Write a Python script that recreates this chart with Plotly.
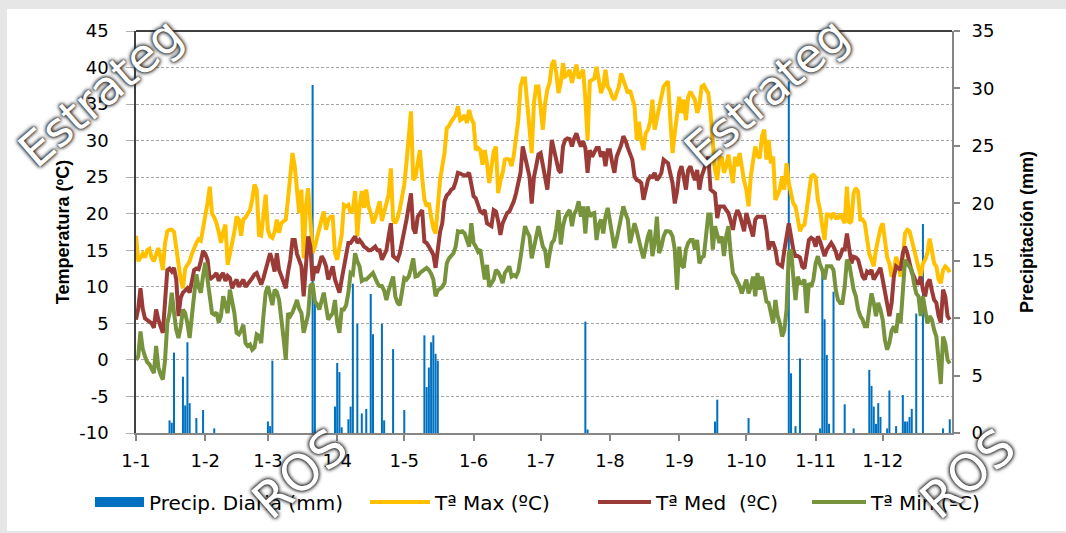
import pandas as pd
import plotly.graph_objects as go

YEAR_START = "2015-01-01"
month_labels = ["1-1", "1-2", "1-3", "1-4", "1-5", "1-6",
                "1-7", "1-8", "1-9", "1-10", "1-11", "1-12"]
temp_ticks = [-10, -5, 0, 5, 10, 15, 20, 25, 30, 35, 40, 45]
temp_tick_labels = ["-10", "-5", "0", "5", "10", "15", "20", "25", "30", "35", "40", "45"]

# Daily maximum temperature (ºC), Jan..Dec
tmax = [
    17, 13.5, 14, 14.5, 14, 15, 15.2, 14, 13.5, 14.5, 15.3, 14, 12.3, 16, 17.6, 17.8, 17.8, 17.5, 15, 13.3, 11, 9.8, 12.5, 13, 13.5, 14.5, 15.3, 16, 16.5, 16.3, 18,
    19.5, 21.5, 23.7, 20, 19.5, 18.7, 17.5, 16, 17.5, 18.5, 13, 14.5, 15.5, 17.5, 19.6, 19.2, 17, 19.2, 19.5, 20, 20.5, 22, 24, 23.3, 17.1, 17, 20, 22.6,
    17.8, 16.9, 16.7, 17.5, 19.2, 17.4, 18.7, 19, 19.2, 22, 25.6, 28.3, 26.5, 23.3, 20.1, 23.3, 13.9, 21, 23.5, 19.2, 14.6, 15.5, 16.9, 17.8, 19.2, 20.3, 17.8, 19.2, 19.6, 19.6, 14.6,
    13.7, 15.5, 17.1, 21.2, 21, 21.2, 20.1, 20.5, 23.1, 16.9, 21, 23.1, 20.8, 23.3, 21, 20.1, 18.7, 19.4, 20.5, 21.7, 19, 20.3, 21.5, 22.6, 26.2, 19.2, 18.7, 19.4, 20.6, 22.4,
    24, 27, 31, 34, 24.6, 25, 26.9, 28.7, 24.9, 22, 21, 21.5, 19.6, 18, 17.3, 21.4, 24.6, 26.5, 28.3, 31.7, 32, 32.6, 33.1, 33.5, 34.7, 32.8, 33, 33.5, 32.4, 34.2, 33,
    32.4, 28.7, 29, 28.7, 26.7, 28.7, 26.9, 24.2, 26, 28.5, 29.2, 22.8, 24.5, 25.6, 27.4, 27.5, 27.4, 26.5, 28, 30.1, 32.8, 37.4, 38.5, 38.5, 35.1, 33, 28.3, 35.1, 37.4, 37.4,
    34.7, 31.5, 35.1, 37, 37.9, 40.4, 41, 39.2, 36.5, 37.9, 40.6, 38.8, 39, 39.7, 37.9, 39.2, 40.4, 38.5, 39, 39.7, 35.6, 30.1, 38.1, 38.3, 38.5, 40.1, 38, 36.5, 37.4, 39.7, 37.4,
    36.9, 36, 35.6, 36.5, 37.4, 39.2, 38.3, 37.5, 36.5, 36.9, 35.5, 34.7, 30.1, 32.6, 30, 28.7, 31, 31.5, 32.6, 35.6, 31.5, 33.3, 34.5, 36, 37.4, 37.8, 38.1, 33, 28.3, 31, 33.3,
    36, 33.8, 35.6, 32.8, 36, 36.7, 36, 35.6, 33.8, 34.7, 37.4, 37.6, 37, 36.5, 33.8, 29.2, 26, 24.6, 27.4, 27.8, 25.6, 26.5, 28.1, 26, 24.2, 27.8, 26.5, 28.3, 26, 24.5,
    23.3, 21, 25.1, 26.9, 29.2, 28, 27.6, 30.6, 31.5, 27.4, 30.1, 26.9, 27.8, 21.9, 22.5, 23.3, 25.1, 23.3, 26.9, 24.2, 22.8, 21.4, 21, 19.2, 17.6, 18.3, 18.5, 20.5, 22.4, 25.1, 25.3,
    25, 21.9, 20.5, 18.3, 16.4, 19.9, 19.9, 19.5, 20.1, 19.4, 19.4, 20, 19.2, 18.7, 23.7, 18.7, 19, 22.8, 23.5, 23, 19.2, 19.2, 18.7, 16.9, 14.5, 13.7, 12.8, 15.1, 16.4, 18,
    18.7, 16.4, 14, 13.2, 11.4, 12.3, 14.1, 13.2, 11.4, 14, 17.3, 17.8, 17.6, 16.4, 15.1, 14.1, 12.8, 11.4, 13.2, 13.7, 14.6, 16.6, 15, 13.2, 12.8, 11, 10.5, 12.3, 12.8, 12.5, 12,
]

# Daily mean temperature (ºC)
tmed = [
    5.5, 7, 9.8, 7, 5.7, 5.5, 5.2, 5, 4.4, 6.9, 5.5, 4.6, 3.7, 8, 12.3, 12.5, 12.1, 12.6, 11, 6, 8.5, 9.2, 9.6, 9.8, 9.2, 11, 12.3, 12.5, 12.4, 13.5, 14.9,
    14.5, 13.7, 11, 11.2, 11.5, 11.9, 10.8, 11.5, 11.9, 10.8, 11.5, 11.2, 9.8, 10.5, 11, 10, 10.5, 11, 10, 10.5, 10.8, 11.2, 11.7, 11.9, 11, 10.3, 11.2, 12.5,
    13.7, 14.6, 13.5, 12.1, 14.6, 12.3, 11.5, 10.8, 9.8, 12, 13.7, 16.4, 16.4, 14.5, 13.7, 12.8, 8.7, 12.8, 16.9, 15.5, 10.8, 12.8, 11.9, 13, 14.2, 13.7, 12.8, 11, 12, 12.8, 11,
    10, 9.2, 11, 12.5, 14.2, 16, 16, 16.4, 16.9, 16, 16.4, 16, 15.5, 15.3, 15, 15, 15.3, 15.5, 15, 15, 13.7, 14.5, 15, 16.9, 18.7, 14.2, 14, 13.7, 14.6, 16,
    17.5, 19.2, 21, 22.8, 18, 17.3, 19.6, 20, 20.5, 16.2, 16, 15.5, 15, 14.4, 12.6, 15.1, 17.5, 18.7, 21.7, 22.5, 22.8, 23.3, 23.5, 24.4, 25.6, 25.5, 25.3, 25.2, 25.3, 25.6, 24,
    22.4, 22.1, 21, 20.3, 20.1, 20.5, 18.7, 18.5, 18.3, 20.5, 20.3, 19, 17.1, 18.7, 19.5, 20.1, 20.3, 21, 21.7, 22.8, 24, 25.6, 29.2, 27.8, 26, 25.1, 21.4, 25, 26.5, 28.1,
    28.3, 26.5, 25.1, 23.3, 26.5, 30.1, 28.7, 27.5, 26, 25.6, 29.2, 30.1, 30.3, 30.2, 29.2, 30.3, 31, 30, 29.2, 29.9, 29, 25.6, 28.7, 27.8, 28.5, 29, 29, 27.8, 28.5, 26.5, 28.7,
    28.7, 27, 25.6, 27.8, 28.5, 29.4, 30.6, 30, 29, 28, 27.4, 25.1, 24.6, 24.5, 24.2, 21.9, 23, 24.6, 25.1, 25, 25.6, 24.6, 25, 25.6, 27.4, 27.2, 26.9, 25.5, 24.2, 21.4, 23,
    25.6, 26.5, 25, 23.3, 26, 26.5, 25.5, 24.6, 26, 23.3, 25.1, 26, 26.9, 27.8, 23.3, 23, 22.8, 19.4, 21, 21, 21, 20.5, 20.1, 19, 17.8, 19.6, 20.5, 19.9, 18.7, 17.6,
    20.1, 19, 18.3, 16.9, 19.2, 19.6, 19.6, 19.6, 19.6, 17.8, 15.1, 16, 16, 15.1, 13.2, 13, 12.8, 15, 16.9, 18.7, 16.9, 15.1, 14.2, 14.2, 14, 12.8, 12.5, 14.6, 16.4, 16.7, 16.5,
    15.5, 16.9, 16.2, 15, 14.2, 15.1, 15.5, 16, 15.5, 14.8, 13.7, 14.2, 15.1, 15.1, 17.3, 15.5, 13.2, 14.1, 14, 13.7, 12.3, 11.4, 11, 12.1, 11.9, 12.3, 11, 11.5, 11.9, 12.6,
    11, 9.1, 7.8, 6, 7.8, 11.4, 12.8, 12.5, 12.3, 14.6, 15.5, 14.6, 13.2, 12, 11.4, 10.5, 10.5, 11.4, 9.6, 8.7, 10.5, 11, 9.5, 8.2, 7.8, 6, 5.1, 9.6, 8.7, 6, 5.5,
]

# Daily minimum temperature (ºC)
tmin = [
    0, 0.5, 3.9, 1.5, 0.5, -0.3, -0.6, -1.3, -1.8, 1.9, -1, -2, -2.7, 0, 5, 6.4, 9.2, 6.5, 4.1, 3, 4.5, 6.9, 6.4, 5, 3, 6, 9, 11.7, 10, 9.2, 11.5,
    13.3, 11, 9, 6.4, 6.2, 6.5, 5.1, 6, 8.7, 7.5, 6.4, 9.6, 8, 6.4, 3.7, 3.5, 4, 4.8, 2.3, 1.9, 2.1, 1.4, 1.7, 3.5, 3.3, 2.3, 6, 9.2,
    10.1, 8.7, 7.5, 9.6, 9.3, 8.2, 6, 3, 0, 6.4, 6, 6.5, 7.3, 8.2, 7, 6.4, 3.7, 5, 6.2, 10.1, 10.5, 8, 7.6, 6.9, 8, 9.2, 7.3, 5.5, 6, 6.4, 8.2,
    5, 3.7, 6.9, 6.9, 7.5, 9.2, 11.9, 11.7, 14.6, 13.5, 12.8, 10.8, 11, 11, 11.4, 11.6, 11.9, 11, 10.5, 10.1, 10.1, 9.5, 8.2, 9.5, 10.5, 11.4, 8.7, 7.8, 7.5, 9.5,
    11.2, 11, 11.4, 12.5, 13.9, 11.4, 11.5, 11.9, 12.1, 12.3, 12.6, 12.3, 11.8, 11, 8.7, 9.5, 9.8, 10, 10.5, 13.2, 13.9, 14.2, 14.6, 15.5, 17.6, 17.5, 17.6, 17.3, 16.5, 15.5, 18.7,
    16, 15.5, 14.8, 15.1, 13, 11, 13, 10, 10.5, 11, 12.3, 12, 11.4, 10.5, 11.9, 12.3, 12.8, 11.4, 11.6, 11.4, 12.1, 14, 16.5, 18.3, 17.5, 16.9, 13.9, 15.5, 16.4, 18.3,
    16.9, 15.5, 15, 12.6, 14.5, 16, 16.4, 18, 20.5, 15.8, 18.3, 19.5, 20.1, 20.5, 18.3, 20, 20.5, 21.7, 19.6, 21, 17.3, 21, 19.6, 20, 20.1, 16.4, 18.5, 19.2, 17.3, 19.6, 20.8,
    19, 17.8, 15.3, 16.5, 17.8, 19.2, 21, 20, 19.2, 16, 17.5, 18.7, 17.6, 16, 15, 13.9, 15.5, 16.9, 17.8, 14.2, 16, 19.6, 14.6, 15.5, 16.9, 17.6, 17.6, 17.5, 16.9, 15.1, 9.6,
    15.5, 13, 12.6, 15.1, 16, 16.4, 16.4, 15.1, 16.4, 13.2, 14, 14.2, 16.9, 19.9, 19.9, 15.1, 18.3, 17, 16, 16.9, 14.2, 16.9, 18.3, 14.6, 11.9, 11.4, 10.8, 10.1, 9.1, 10,
    11, 9.1, 10, 11.4, 8.7, 11.9, 9.6, 11.4, 10, 8, 7.8, 6.4, 5, 8.2, 6, 5, 3.2, 4.1, 6.9, 14.6, 15.1, 11.4, 8.2, 11.4, 10.5, 10.5, 11, 6.4, 10.5, 10, 11,
    13.2, 14.2, 13, 12.3, 11, 12.8, 12.8, 12.8, 12.3, 9.6, 8.2, 7.8, 7.8, 10, 13.7, 13.2, 11.4, 9.6, 8.7, 6.9, 6, 5.5, 4.6, 4.6, 7, 9.1, 7.8, 6, 7.8, 6.9,
    5.5, 2.7, 1.4, 2.3, 4, 4.6, 3.7, 6.4, 5, 9.6, 13.7, 13.2, 12.8, 12.3, 10.5, 9.1, 8.7, 6, 8.7, 6.9, 5, 6, 5.5, 4.1, 3.2, 0, -3.3, 3.2, 2.3, 0, -0.5,
]

# Rainy days (day of year) and daily precipitation (mm)
rain_doy = [16, 17, 18, 22, 23, 24, 25, 28, 31, 36,
            60, 61, 62, 80, 81, 90, 91, 92, 93, 96,
            97, 98, 100, 102, 104, 106, 107, 111, 112, 116,
            121, 130, 131, 132, 133, 134, 135, 136, 202, 203,
            260, 261, 275, 293, 294, 296, 298, 307, 308, 309,
            310, 311, 313, 318, 322, 329, 330, 331, 332, 333,
            334, 337, 338, 341, 344, 345, 346, 347, 348, 350,
            353, 362, 365]
rain_mm = [1.1, 0.9, 7.0, 4.9, 2.4, 7.9, 2.6, 1.3, 2.0, 0.4,
           1.0, 0.6, 6.3, 30.3, 12.0, 2.3, 6.1, 5.3, 0.5, 1.2,
           2.3, 13.0, 9.5, 1.7, 2.1, 12.1, 8.6, 9.5, 1.1, 7.3,
           2.0, 8.5, 4.0, 5.7, 7.9, 8.5, 6.9, 6.3, 9.7, 0.3,
           1.0, 2.9, 1.3, 30.6, 5.2, 0.6, 6.5, 0.4, 14.2, 9.9,
           6.8, 0.8, 12.3, 2.5, 0.4, 5.5, 4.1, 2.3, 0.8, 2.6,
           1.4, 0.4, 3.7, 0.6, 3.3, 1.0, 1.0, 1.4, 2.1, 10.4,
           18.2, 0.4, 1.2]

assert len(tmax) == 365 and len(tmed) == 365 and len(tmin) == 365, (len(tmax), len(tmed), len(tmin))
assert len(rain_doy) == len(rain_mm)

start = pd.Timestamp(YEAR_START)
dates = pd.date_range(start, periods=len(tmax), freq="D")
rain_dates = start + pd.to_timedelta([d - 1 for d in rain_doy], unit="D")
month_starts = pd.date_range(start, periods=12, freq="MS")
x_end = start + pd.Timedelta(days=len(tmax))

BLUE = "#0070C0"
GOLD = "#FFC000"
RED = "#9B3B38"
GREEN = "#77933C"

TICK_FONT = dict(family="DejaVu Sans, Verdana, sans-serif", size=18, color="#000000")
TITLE_FONT = dict(family="Liberation Sans Narrow, Arial Narrow, Liberation Sans, sans-serif",
                  size=18, color="#000000", weight="bold")
LEG_FONT = dict(family="DejaVu Sans, Verdana, sans-serif", size=20, color="#000000")

fig = go.Figure()

# precipitation bars on the base (right) axis so that the lines draw above them
fig.add_trace(go.Bar(x=rain_dates, y=rain_mm, marker=dict(color=BLUE, line=dict(width=0)),
                     yaxis="y", showlegend=False, name="Precip. Diaria (mm)"))
# legend swatch for the bars
fig.add_trace(go.Scatter(x=[None], y=[None], mode="lines", line=dict(color=BLUE, width=14),
                         name="Precip. Diaria (mm)", legend="legend", yaxis="y"))

fig.add_trace(go.Scatter(x=dates, y=tmax, mode="lines", line=dict(color=GOLD, width=4),
                         name="Tª Max (ºC)", yaxis="y2", legend="legend2"))
fig.add_trace(go.Scatter(x=dates, y=tmed, mode="lines", line=dict(color=RED, width=4),
                         name="Tª Med\u00a0 (ºC)", yaxis="y2", legend="legend3"))
fig.add_trace(go.Scatter(x=dates, y=tmin, mode="lines", line=dict(color=GREEN, width=4),
                         name="Tª Min (ºC)", yaxis="y2", legend="legend4"))

W, H = 1066, 533
L, R, T, B = 136, 114, 31, 100
pw, ph = W - L - R, H - T - B


def px_x(px):
    return (px - L) / pw


def px_y(py):
    return (H - B - py) / ph


def leg(xpx, sym_w):
    return dict(x=px_x(xpx), y=px_y(502), xanchor="left", yanchor="middle",
                orientation="h", font=LEG_FONT, bgcolor="rgba(0,0,0,0)",
                itemwidth=sym_w, borderwidth=0)


def wm_font(size):
    return dict(family="DejaVu Sans, sans-serif", size=size, color="#ffffff",
                shadow="0px 0px 4px #2a2a2a, 0px 0px 4px #2a2a2a, 0px 0px 2px #444444")


watermarks = [
    ("Estrateg", 100, 92, 47),
    ("Estrateg", 766, 92, 47),
    ("ROS", 300, 474, 50),
    ("ROS", 968, 474, 50),
]

fig.update_layout(
    width=W, height=H,
    margin=dict(l=L, r=R, t=T, b=B),
    paper_bgcolor="#e6e6e6",
    plot_bgcolor="#ffffff",
    bargap=0.1,
    xaxis=dict(
        type="date", range=[start, x_end],
        tickvals=month_starts, ticktext=month_labels,
        ticks="outside", ticklen=6, tickwidth=1.5, tickcolor="#868686",
        showline=True, linecolor="#868686", linewidth=2,
        showgrid=False, zeroline=False, tickfont=TICK_FONT,
        ticklabelstandoff=4,
    ),
    yaxis=dict(
        side="right", range=[0, 35], dtick=5, tick0=0,
        showgrid=False, zeroline=False,
        showline=True, linecolor="#868686", linewidth=2,
        ticks="outside", ticklen=6, tickwidth=1.5, tickcolor="#868686",
        tickfont=TICK_FONT, ticklabelstandoff=8,
        title=dict(text="Precipitación (mm)", font=TITLE_FONT, standoff=27),
    ),
    yaxis2=dict(
        overlaying="y", side="left", range=[-10, 45],
        tickvals=temp_ticks, ticktext=temp_tick_labels,
        showgrid=True, gridcolor="#a6a6a6", gridwidth=1, griddash="3px,2px",
        zeroline=False, showline=True, linecolor="#404040", linewidth=1.5,
        ticks="outside", ticklen=8, tickwidth=1, tickcolor="#b0b0b0",
        tickfont=TICK_FONT, ticklabelstandoff=14,
        title=dict(text="Temperatura (ºC)", font=TITLE_FONT, standoff=5),
    ),
    legend=leg(90, 49),
    legend2=leg(365, 60),
    legend3=leg(593, 53),
    legend4=leg(807, 54),
    shapes=[
        dict(type="rect", xref="paper", yref="paper", layer="below",
             x0=px_x(7), x1=px_x(W), y0=px_y(531), y1=px_y(9),
             fillcolor="#ffffff", line=dict(width=0)),
        dict(type="line", xref="paper", yref="paper", x0=0, x1=1, y0=1, y1=1,
             line=dict(color="#000000", width=1.5)),
    ],
    annotations=[
        dict(text=t, xref="paper", yref="paper", x=px_x(cx), y=px_y(cy),
             xanchor="center", yanchor="middle", textangle=-41, showarrow=False,
             font=wm_font(sz))
        for t, cx, cy, sz in watermarks
    ],
)

fig.write_html("out.html")
